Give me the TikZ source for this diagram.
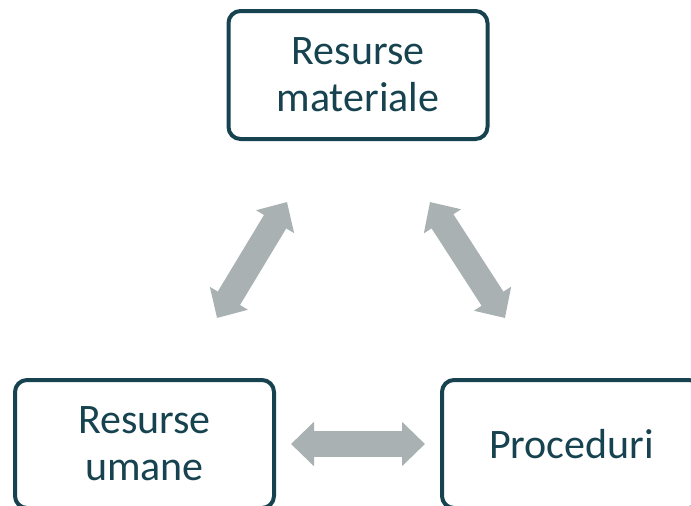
\documentclass[tikz,border=0pt]{standalone}
\usepackage{xcolor}
\usepackage{fontspec}
\setmainfont{Carlito}
\usetikzlibrary{arrows.meta}
\definecolor{boxline}{HTML}{16434F}
\definecolor{arrowgray}{HTML}{A9B1B3}

\begin{document}
\begin{tikzpicture}[
    x=1pt, y=-1pt,
    box/.style={rectangle, draw=boxline, line width=4pt, rounded corners=12pt,
        minimum width=259pt, minimum height=128pt, align=center,
        text=boxline, font=\fontsize{42}{47}\selectfont},
    arrow/.style={draw=arrowgray, line width=26pt,
        {Triangle[width=43pt,length=23pt]}-{Triangle[width=43pt,length=23pt]}}
]
\useasboundingbox (0,0) rectangle (691,506);
\begin{scope}
\clip (0,0) rectangle (691,506);
\node[box] (RM) at (358,75) {Resurse\\materiale};
\node[box] (RU) at (144.5,444) {Resurse\\umane};
\node[box] (PR) at (571.5,444) {Proceduri};
\end{scope}

\coordinate (L1) at (217,318);
\coordinate (L2) at (287,202);
\coordinate (R1) at (430,202);
\coordinate (R2) at (505,318);
\coordinate (H1) at (291,444);
\coordinate (H2) at (425,444);

\path[arrow] (L1) -- (L2);
\path[arrow] (R1) -- (R2);
\path[arrow] (H1) -- (H2);
\end{tikzpicture}
\end{document}
